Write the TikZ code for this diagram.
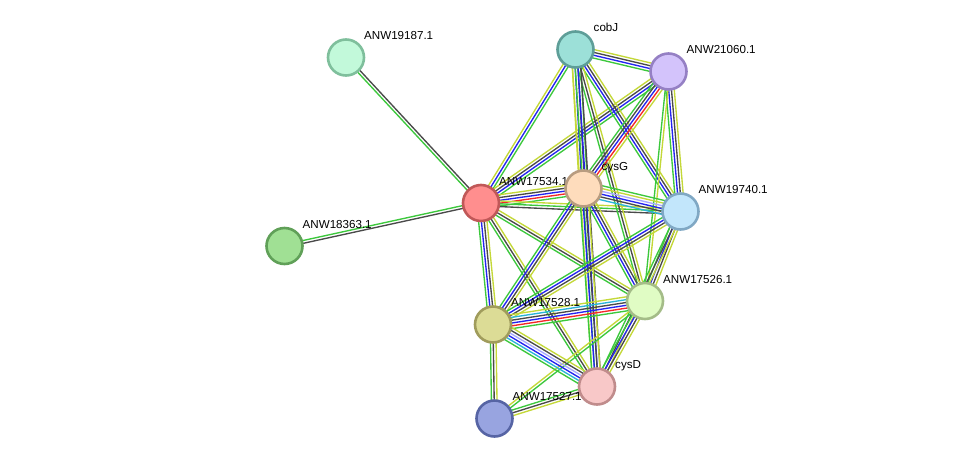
\documentclass[tikz,border=0pt]{standalone}
\usepackage{fontspec}
\setmainfont{Liberation Sans}
\usetikzlibrary{calc}

\pgfdeclarelayer{bg}
\pgfdeclarelayer{edges}
\pgfsetlayers{bg,edges,main}

% evidence channel colours
\definecolor{lgreen}{HTML}{3CC83C}
\definecolor{lred}{HTML}{F52828}
\definecolor{lblue}{HTML}{2424F0}
\definecolor{lblack}{HTML}{4A4A4A}
\definecolor{lyellow}{HTML}{C4D838}
\definecolor{lcyan}{HTML}{2AB4D8}
\definecolor{llav}{HTML}{A8A8FF}

\tikzset{
  prot/.style={circle, draw, line width=2.6pt, minimum size=36pt, inner sep=0pt},
  lbl/.style={anchor=base west, inner sep=0pt, font=\fontsize{11.6pt}{13pt}\selectfont},
  link/.style={line width=1.35pt},
}

% a bundle of parallel coloured lines between two nodes
\newcommand\bundle[3]{%
  \begin{pgfonlayer}{edges}
  \foreach \col [count=\k] in {#3} {\xdef\nlines{\k}}%
  \foreach \col [count=\k] in {#3} {%
    \pgfmathsetmacro\off{(\k-(\nlines+1)/2)*2.8}%
    \draw[link,\col] ($(#1)!\off pt!90:(#2)$) -- ($(#2)!\off pt!-90:(#1)$);
  }%
  \end{pgfonlayer}}

% a protein node with its name
\newcommand\prot[6]{%
  \definecolor{#1fill}{HTML}{#4}%
  \definecolor{#1rim}{HTML}{#5}%
  \node[prot, fill=#1fill, draw=#1rim] (#1) at (#2,#3) {};
  \node[lbl] (#1-l) at ($(#1.center)+(18,-18)$) {#6};}

\begin{document}
\begin{tikzpicture}[x=1pt,y=-1pt]
\begin{pgfonlayer}{bg}
  \fill[white] (0,0) rectangle (975,464);
\end{pgfonlayer}
\useasboundingbox (0,0) rectangle (975,464);

\prot{R}{346}{57.5}{C2F9DA}{7FBF9C}{ANW19187.1}
\prot{N}{284.5}{246}{A0E094}{60A058}{ANW18363.1}
\prot{C}{575.5}{49.5}{9CE0D8}{5E9E98}{cobJ}
\prot{W}{668.5}{71.5}{D3C3FB}{9580C4}{ANW21060.1}
\prot{A}{481}{203}{FF8E8E}{C05858}{ANW17534.1}
\prot{G}{583.5}{188.5}{FEDCBC}{B89C80}{cysG}
\prot{V}{680.5}{211.5}{C2E6FB}{80A8C4}{ANW19740.1}
\prot{S}{645}{301}{E0FCC4}{A4BC88}{ANW17526.1}
\prot{T}{493}{324.5}{DCDC96}{A09C5C}{ANW17528.1}
\prot{D}{597}{386.5}{F8C8C8}{C08C8C}{cysD}
\prot{K}{494.5}{418.5}{98A4E0}{5664A4}{ANW17527.1}

\bundle{R}{A}{lgreen,lblack}
\bundle{N}{A}{lblack,lgreen}
\bundle{A}{C}{lgreen,lblue,lyellow}
\bundle{A}{W}{lgreen,lblue,lblack,lyellow}
\bundle{A}{G}{lgreen,lred,lblue,lblack,lyellow}
\bundle{A}{V}{lblack,lgreen,lyellow}
\bundle{A}{S}{lgreen,lblack,lyellow}
\bundle{A}{T}{lgreen,lblue,lblack,lyellow}
\bundle{A}{D}{lgreen,lblack,lyellow}
\bundle{C}{W}{lgreen,lblue,lblack,lyellow}
\bundle{C}{G}{lyellow,lblue,lblack,lgreen}
\bundle{C}{V}{lgreen,lblue,lblack,lyellow}
\bundle{C}{S}{lgreen,lblack,lyellow}
\bundle{C}{D}{lyellow,lgreen,lblue,lblack}
\bundle{W}{G}{lgreen,lblack,lblue,lred,lyellow}
\bundle{W}{V}{lgreen,lblue,lblack,lyellow}
\bundle{W}{S}{lgreen,lyellow}
\bundle{G}{V}{lcyan,lblack,lblue,llav,lyellow,lgreen}
\bundle{G}{S}{lgreen,lblue,lblack,lyellow}
\bundle{G}{T}{lgreen,lblue,lblack,lyellow}
\bundle{G}{D}{lgreen,lblue,lblack,lyellow}
\bundle{V}{S}{lgreen,lblue,lblack,lyellow}
\bundle{V}{T}{lgreen,lblue,lblack,lyellow}
\bundle{V}{D}{lgreen,lblack,lyellow}
\bundle{S}{T}{lyellow,lcyan,lblack,lblue,lred,lgreen}
\bundle{S}{D}{lgreen,lblue,lblack,lyellow}
\bundle{S}{K}{lyellow,lgreen}
\bundle{T}{D}{lgreen,lcyan,lblue,llav,lblack,lyellow}
\bundle{T}{K}{lgreen,lblack,lyellow}
\bundle{D}{K}{lgreen,lblack,lyellow}
\end{tikzpicture}
\end{document}
